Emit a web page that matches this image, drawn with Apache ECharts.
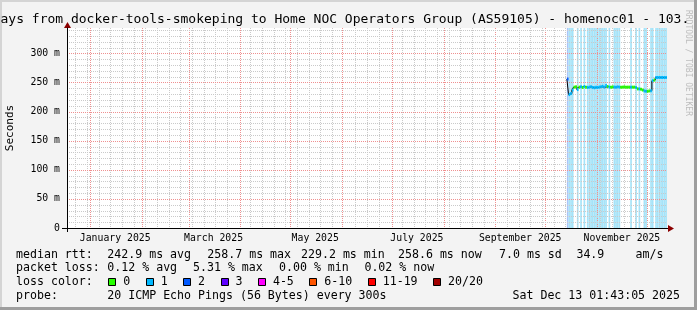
<!DOCTYPE html>
<html><head><meta charset="utf-8">
<script src="https://cdn.jsdelivr.net/npm/echarts@6/dist/echarts.min.js"></script>
<style>html,body{margin:0;padding:0;background:#f3f3f3}#c{width:697px;height:310px}</style>
</head><body><div id="c"></div>
<script>
// ---------- data ----------
const startTime = '2024-12-18T01:43:05Z';
const endTime = '2025-12-13T01:43:05Z';
const yMax = 343.6;
const yTickStep = 10;
const yLabelStep = 50;

const monthStarts = ['2025-01-01','2025-02-01','2025-03-01','2025-04-01','2025-05-01','2025-06-01',
  '2025-07-01','2025-08-01','2025-09-01','2025-10-01','2025-11-01','2025-12-01'];
const monthLabelDates = ['2025-01-16','2025-03-16','2025-05-16','2025-07-16','2025-09-16','2025-11-16'];
const monthLabels = ['January 2025','March 2025','May 2025','July 2025','September 2025','November 2025'];

const firstDay = '2025-10-14';   // one value per day from here on
const medianMs = [
  256.0, 229.2, 231.0, 237.0, 242.0, 242.5, 238.0, 242.0, 242.5, 241.5,
  243.0, 242.0, 241.5, 242.0, 242.5, 241.5, 241.0, 242.0, 241.5, 242.0,
  242.5, 243.5, 242.0, 245.0, 243.0, 242.0, 242.0, 242.5, 242.0, 242.0,
  242.5, 242.0, 242.0, 242.0, 242.5, 242.0, 242.0, 242.0, 242.0, 242.0,
  242.0, 241.5, 239.0, 239.0, 238.5, 237.0, 235.5, 235.0, 235.0, 235.5,
  236.0, 253.0, 254.0, 258.5, 258.6, 258.7, 258.6, 258.6, 258.5, 258.6,
  258.6
];
const lossClass = [
  2, 1, 1, 1, 0, 0, 1, 0, 1, 0,
  1, 0, 1, 1, 1, 1, 1, 1, 1, 1,
  1, 1, 1, 1, 0, 1, 0, 0, 1, 1,
  1, 1, 0, 0, 0, 0, 0, 0, 1, 0,
  0, 1, 0, 1, 0, 0, 1, 1, 0, 0,
  1, 1, 0, 1, 1, 1, 1, 1, 1, 1,
  1
];

const lossLegend = ['0','1','2','3','4-5','6-10','11-19','20/20'];
const lossColors = ['#26ff00','#00b8ff','#0059ff','#5e00ff','#ff00ff','#ff5500','#ff0000','#a10000'];
const lossBgColors = [null,'#a6e3f8','#aac5f9','#c4a6ff','#ffa6ff','#ffc6a6','#ffa6a6','#e0a6a6'];

const statsRow1 = ['median rtt:','242.9 ms avg','258.7 ms max','229.2 ms min','258.6 ms now','7.0 ms sd','34.9','am/s'];
const statsRow2 = ['packet loss:','0.12 % avg','5.31 % max','0.00 % min','0.02 % now'];
const probeText = ['probe:','20 ICMP Echo Pings (56 Bytes) every 300s','Sat Dec 13 01:43:05 2025'];
const titleText = 'ays from docker-tools-smokeping to Home NOC Operators Group (AS59105) - homenoc01 - 103.';

// ---------- build ----------
const DAY = 86400000;
const tsOf = s => { const [y,m,d] = s.split('-').map(Number); return Date.UTC(y, m-1, d); };
const t0 = Date.parse(startTime), t1 = Date.parse(endTime);
const day0 = tsOf(firstDay);
const dayTs = medianMs.map((_, i) => day0 + i * DAY);
const labelTs = monthLabelDates.map(tsOf);
const monthTs = monthStarts.map(tsOf);
// grid lines: [x, y, kind]  kind 0 = week, 1 = month, 2 = minor value, 3 = major value
const gridItems = [];
for (let t = Date.UTC(2024,11,23); t < t1; t += 7*DAY) {
  if (!monthTs.some(m => Math.abs(m - t) < 1.5*DAY)) gridItems.push([t, 0, 0]);
}
monthTs.forEach(t => gridItems.push([t, 0, 1]));
for (let v = yTickStep; v < yMax; v += yTickStep) {
  gridItems.push([t0, v, v % yLabelStep === 0 ? 3 : 2]);
}
const gridColors = ['#cacaca', '#ef9090', '#cacaca', '#ef9090'];

const MONO = 'DejaVu Sans Mono';
const chart = echarts.init(document.getElementById('c'), null, {renderer:'canvas'});

chart.setOption({
  animation: false,
  backgroundColor: '#f3f3f3',
  grid: {left: 67, top: 28, width: 600, height: 200, backgroundColor: '#ffffff', show: true, borderWidth: 0, outerBoundsMode: 'none'},
  xAxis: {
    type: 'value', min: t0, max: t1, z: 6, scale: true,
    splitLine: {show: false}, axisTick: {show: false},
    axisLine: {lineStyle: {color: '#000', width: 1}},
    axisLabel: {
      customValues: labelTs,
      formatter: v => { const i = labelTs.findIndex(t => Math.abs(t - v) < 3600000); return i >= 0 ? monthLabels[i] : ''; },
      fontFamily: MONO, fontSize: 9.8, color: '#000', margin: 5, hideOverlap: false,
      showMinLabel: true, showMaxLabel: true
    }
  },
  yAxis: {
    type: 'value', min: 0, max: yMax, interval: yTickStep, z: 6,
    axisLine: {show: true, lineStyle: {color: '#000', width: 1}},
    axisTick: {show: false},
    axisLabel: {
      formatter: v => (Math.abs(v % yLabelStep) < 1e-6 ? (v === 0 ? '0' : v + ' m') : ''),
      fontFamily: MONO, fontSize: 9.8, color: '#000', margin: 7
    },
    splitLine: {show: false}
  },
  series: [
    {
      name: 'lossBg', type: 'custom', z: 1, silent: true,
      data: dayTs.map((t, i) => [t, lossClass[i]]),
      encode: {x: 0},
      renderItem: (params, api) => {
        const c = api.value(1);
        if (!c) return null;
        const ts = api.value(0);
        const te = Math.min(ts + DAY, t1);
        const a = api.coord([ts, yMax]), b = api.coord([te, 0]);
        return {type: 'rect', shape: {x: a[0], y: a[1], width: b[0]-a[0], height: b[1]-a[1]},
          style: {fill: lossBgColors[c]}};
      }
    },
    {
      name: 'gridLines', type: 'custom', z: 3, silent: true,
      data: gridItems,
      encode: {x: 0, y: 1},
      renderItem: (params, api) => {
        const k = api.value(2);
        const lo = api.coord([t0, 0]), hi = api.coord([t1, yMax]);
        let shape;
        if (k < 2) {
          const x = Math.round(api.coord([api.value(0), 0])[0]) + 0.5;
          shape = {x1: x, y1: hi[1], x2: x, y2: lo[1]};
        } else {
          const y = Math.round(api.coord([t0, api.value(1)])[1]) + 0.5;
          shape = {x1: lo[0], y1: y, x2: hi[0], y2: y};
        }
        return {type: 'line', shape, style: {stroke: gridColors[k], lineWidth: 1, lineDash: [1, 1]}};
      }
    },
    {
      name: 'medianLine', type: 'line', z: 4, step: 'end', symbol: 'none', silent: true,
      data: [...dayTs.map((t, i) => [t, medianMs[i]]), [t1, medianMs[medianMs.length-1]]],
      lineStyle: {color: '#000', width: 1}
    },
    {
      name: 'median', type: 'custom', z: 5, silent: true,
      data: dayTs.map((t, i) => [t, medianMs[i], lossClass[i]]),
      encode: {x: 0, y: 1},
      renderItem: (params, api) => {
        const ts = api.value(0), m = api.value(1), c = api.value(2);
        const te = Math.min(ts + DAY, t1);
        const a = api.coord([ts, m]), b = api.coord([te, m]);
        return {type: 'rect', shape: {x: a[0], y: a[1]-1.5, width: b[0]-a[0], height: 3},
          style: {fill: lossColors[c]}};
      }
    }
  ]
});

// ---------- decorations & legend ----------
const o = chart.convertToPixel({gridIndex: 0}, [t0, 0]);
const e = chart.convertToPixel({gridIndex: 0}, [t1, yMax]);
const txt = (x, y, s, extra) => Object.assign({type: 'text', x, y, silent: true,
  style: Object.assign({text: s, fontFamily: MONO, fontSize: 11.6, fill: '#000', textVerticalAlign: 'middle', textAlign: 'left'}, extra || {})});

const g = [];
g.push({type:'rect', shape:{x:0,y:0,width:697,height:2}, style:{fill:'#d4d4d4'}, silent:true});
g.push({type:'rect', shape:{x:0,y:0,width:2,height:310}, style:{fill:'#d4d4d4'}, silent:true});
g.push({type:'rect', shape:{x:694,y:0,width:3,height:310}, style:{fill:'#9e9e9e'}, silent:true});
g.push({type:'rect', shape:{x:0,y:307,width:697,height:3}, style:{fill:'#9e9e9e'}, silent:true});
g.push({type:'text', x: 688, y: 63, rotation: -Math.PI/2, silent: true,
  style:{text:'RRDTOOL / TOBI OETIKER', fontFamily: MONO, fontSize: 8, fill:'#bdbdbd', textAlign:'center', textVerticalAlign:'middle'}});
g.push(txt(0.5, 19.5, titleText, {fontSize: 13}));
g.push({type:'text', x: 10, y: 128, rotation: Math.PI/2, silent: true,
  style:{text:'Seconds', fontFamily: MONO, fontSize: 11, fill:'#000', textAlign:'center', textVerticalAlign:'middle'}});
g.push({type:'line', silent:true, shape:{x1:o[0]-5, y1:Math.round(o[1])+0.5, x2:o[0], y2:Math.round(o[1])+0.5}, style:{stroke:'#000', lineWidth:1}});
g.push({type:'line', silent:true, shape:{x1:Math.round(o[0])+0.5, y1:o[1], x2:Math.round(o[0])+0.5, y2:o[1]+4}, style:{stroke:'#000', lineWidth:1}});
g.push({type:'line', silent:true, shape:{x1:e[0], y1:Math.round(o[1])+0.5, x2:e[0]+2, y2:Math.round(o[1])+0.5}, style:{stroke:'#000', lineWidth:1}});
g.push({type:'polygon', silent:true, shape:{points:[[e[0]+1, o[1]-3],[e[0]+7, o[1]+0.5],[e[0]+1, o[1]+4]]}, style:{fill:'#8b0000'}});
g.push({type:'polygon', silent:true, shape:{points:[[o[0]-3, e[1]],[o[0]+0.5, e[1]-6],[o[0]+4, e[1]]]}, style:{fill:'#8b0000'}});

const row1X = [16, 107.3, 207.3, 301, 398, 499, 576.4, 635.6];
statsRow1.forEach((s, i) => g.push(txt(row1X[i], 254.5, s)));
const row2X = [16, 107.3, 193, 279, 364.4];
statsRow2.forEach((s, i) => g.push(txt(row2X[i], 268.4, s)));
g.push(txt(16, 282.3, 'loss color:'));
let lx = 108.3;
lossLegend.forEach((s, i) => {
  g.push({type:'rect', silent:true, shape:{x: Math.round(lx)+0.5, y: 278.5, width: 7, height: 7}, style:{fill: lossColors[i], stroke:'#000', lineWidth:1}});
  g.push(txt(lx + 15, 282.3, s));
  lx += 15 + s.length * 7 + 15.4;
});
g.push(txt(16, 296.3, probeText[0]));
g.push(txt(107.3, 296.3, probeText[1]));
g.push(txt(680, 296.3, probeText[2], {textAlign: 'right'}));

chart.setOption({graphic: {elements: g}});
</script></body></html>
